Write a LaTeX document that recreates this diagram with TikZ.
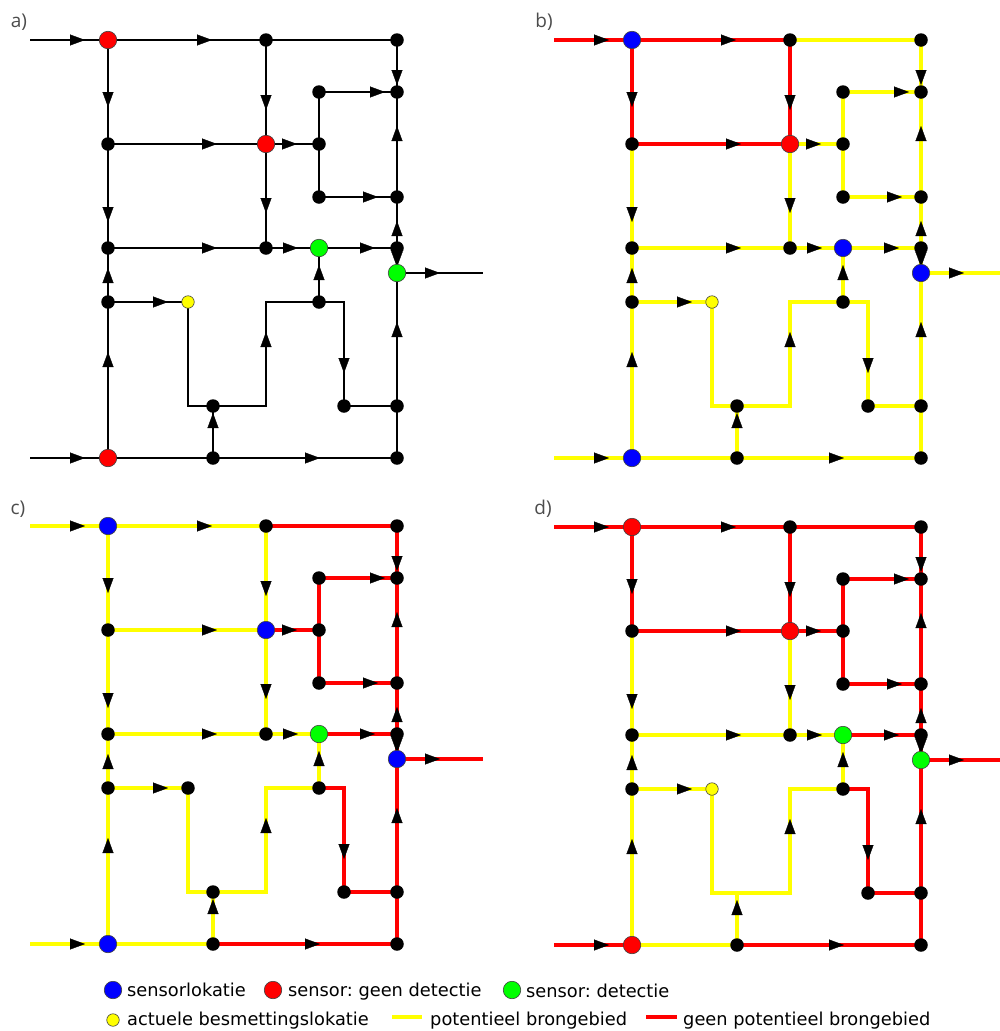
\documentclass[tikz,border=0pt]{standalone}
\usepackage{fontspec}
\setmainfont{DejaVu Sans}
\newfontfamily\lblfont{Open Sans}
\usetikzlibrary{arrows.meta,decorations.markings,backgrounds}
\frenchspacing
\definecolor{cred}{RGB}{255,0,0}
\definecolor{cyel}{RGB}{255,255,0}
\definecolor{cblue}{RGB}{0,0,255}
\definecolor{cgreen}{RGB}{0,255,0}
\tikzset{
 jdot/.style={circle, fill=black, inner sep=0pt, minimum size=13.5pt},
 sens/.style={circle, draw=black!75, line width=0.6pt, fill=#1, inner sep=0pt, minimum size=17.5pt},
 cont/.style={circle, draw=black!75, line width=0.6pt, fill=cyel, inner sep=0pt, minimum size=12.5pt},
 blk/.style={draw=black, line width=2pt},
 rline/.style={draw=cred, line width=3.6pt},
 yline/.style={draw=cyel, line width=3.6pt},
 yline2/.style={draw=cyel, line width=3.3pt, preaction={draw=cred!70!cyel, line width=4.1pt}},
 fl/.style={postaction={decorate, decoration={markings, mark=at position #1pt with {\arrow{Triangle[length=15pt,width=11pt,line width=0.3pt,color=black]}}}}},
 lbl/.style={font=\lblfont\fontsize{19}{19}\selectfont, text=black!70, inner sep=0pt},
 lgtext/.style={font=\fontsize{17.8}{20}\selectfont, anchor=base west, inner sep=0pt},
}
\newcommand\drawnet[1]{%
 \coordinate (#1in1) at (30,40);
 \coordinate (#1in2) at (30,458);
 \coordinate (#1out) at (483,273);
 \node[s1] (#1n1) at (108,40) {};
 \node[jdot] (#1n2) at (266,40) {};
 \node[jdot] (#1n3) at (397,40) {};
 \node[jdot] (#1n4) at (319,92) {};
 \node[jdot] (#1n5) at (397,92) {};
 \node[jdot] (#1n6) at (108,144) {};
 \node[s2] (#1n7) at (266,144) {};
 \node[jdot] (#1n8) at (319,144) {};
 \node[jdot] (#1n9) at (319,197) {};
 \node[jdot] (#1n10) at (397,197) {};
 \node[jdot] (#1n11) at (108,248) {};
 \node[jdot] (#1n12) at (266,248) {};
 \node[s3] (#1n13) at (319,248) {};
 \node[jdot] (#1n14) at (397,248) {};
 \node[s4] (#1n15) at (397,273) {};
 \node[jdot] (#1n16) at (108,302) {};
 \node[s17] (#1n17) at (188,302) {};
 \node[jdot] (#1n18) at (319,302) {};
 \node[s19] (#1n19) at (213,406) {};
 \node[jdot] (#1n20) at (344,406) {};
 \node[jdot] (#1n21) at (397,406) {};
 \node[s5] (#1n22) at (108,458) {};
 \node[jdot] (#1n23) at (213,458) {};
 \node[jdot] (#1n24) at (397,458) {};
 \begin{scope}[on background layer]
 \path[gP, fl=55] (#1in1) -- (#1n1.center);
 \path[gP, fl=104] (#1n1.center) -- (#1n2.center);
 \path[gQ] (#1n2.center) -- (#1n3.center);
 \path[gQ, fl=45] (#1n3.center) -- (#1n5.center);
 \path[gP, fl=67] (#1n1.center) -- (#1n6.center);
 \path[gP, fl=70] (#1n2.center) -- (#1n7.center);
 \path[gQ, fl=66] (#1n4.center) -- (#1n5.center);
 \path[gQ] (#1n4.center) -- (#1n8.center);
 \path[gQ] (#1n8.center) -- (#1n9.center);
 \path[gP, fl=109] (#1n6.center) -- (#1n7.center);
 \path[gQ, fl=31] (#1n7.center) -- (#1n8.center);
 \path[gR, fl=69] (#1n7.center) -- (#1n12.center);
 \path[gR, fl=78] (#1n6.center) -- (#1n11.center);
 \path[gQ, fl=59] (#1n9.center) -- (#1n10.center);
 \path[gQ, fl=71] (#1n10.center) -- (#1n5.center);
 \path[gQ, fl=27] (#1n14.center) -- (#1n10.center);
 \path[gR, fl=109] (#1n11.center) -- (#1n12.center);
 \path[gR, fl=32] (#1n12.center) -- (#1n13.center);
 \path[gQ, fl=56] (#1n13.center) -- (#1n14.center);
 \path[gQ, fl=19] (#1n14.center) -- (#1n15.center);
 \path[gQ, fl=43] (#1n15.center) -- (#1out);
 \path[gR, fl=34] (#1n16.center) -- (#1n11.center);
 \path[gR, fl=106] (#1n22.center) -- (#1n16.center);
 \path[gR, fl=60] (#1n16.center) -- (#1n17.center);
 \path[gR] (#1n17.center) |- (#1n19.center);
 \path[gR, fl=127] (#1n19.center) -- (#1n19.center -| #1n12.center) -- (#1n18.center -| #1n12.center) -- (#1n18.center);
 \path[gR, fl=37] (#1n18.center) -- (#1n13.center);
 \path[gQ, fl=96] (#1n18.center) -| (#1n20.center);
 \path[gQ] (#1n20.center) -- (#1n21.center);
 \path[gQ, fl=84] (#1n21.center) -- (#1n15.center);
 \path[gQ] (#1n24.center) -- (#1n21.center);
 \path[gS, fl=55] (#1in2) -- (#1n22.center);
 \path[gR] (#1n22.center) -- (#1n23.center);
 \path[gQ, fl=107] (#1n23.center) -- (#1n24.center);
 \path[gR, fl=45] (#1n23.center) -- (#1n19.center);
 \end{scope}}
\begin{document}
\begin{tikzpicture}[x=1pt,y=-1pt]
\useasboundingbox (0,0) rectangle (1000,1031);
\begin{scope}[on background layer]
\fill[white] (0,0) rectangle (1000,1031);
\end{scope}
% panel a
\begin{scope}[s1/.style={sens=cred}, s2/.style={sens=cred}, s3/.style={sens=cgreen}, s4/.style={sens=cgreen}, s5/.style={sens=cred}, s17/.style={cont}, s19/.style={jdot}, gP/.style={blk}, gQ/.style={blk}, gR/.style={blk}, gS/.style={blk}]
\drawnet{a}
\end{scope}
% panel b
\begin{scope}[shift={(524,0)}, s1/.style={sens=cblue}, s2/.style={sens=cred}, s3/.style={sens=cblue}, s4/.style={sens=cblue}, s5/.style={sens=cblue}, s17/.style={cont}, s19/.style={jdot}, gP/.style={rline}, gQ/.style={yline}, gR/.style={yline}, gS/.style={yline}]
\drawnet{b}
\end{scope}
% panel c
\begin{scope}[shift={(0,486)}, s1/.style={sens=cblue}, s2/.style={sens=cblue}, s3/.style={sens=cgreen}, s4/.style={sens=cblue}, s5/.style={sens=cblue}, s17/.style={jdot}, s19/.style={jdot}, gP/.style={yline}, gQ/.style={rline}, gR/.style={yline}, gS/.style={yline}]
\drawnet{c}
\end{scope}
% panel d
\begin{scope}[shift={(524,487)}, s1/.style={sens=cred}, s2/.style={sens=cred}, s3/.style={sens=cgreen}, s4/.style={sens=cgreen}, s5/.style={sens=cred}, s17/.style={cont}, s19/.style={coordinate}, gP/.style={rline}, gQ/.style={rline}, gR/.style={yline2}, gS/.style={rline}]
\drawnet{d}
\end{scope}
% panel labels
\node[lbl] (la) at (19,22) {a)};
\node[lbl] (lb) at (544,22) {b)};
\node[lbl] (lc) at (18,509) {c)};
\node[lbl] (ld) at (543,509) {d)};
% legend
\node[sens=cblue] (lgb) at (113,990) {};
\node[lgtext] (lgbt) at (127,996.5) {sensorlokatie};
\node[sens=cred] (lgr) at (273,990) {};
\node[lgtext] (lgrt) at (288,996.5) {sensor: geen detectie};
\node[sens=cgreen] (lgg) at (512,990) {};
\node[lgtext] (lggt) at (526,997.5) {sensor: detectie};
\node[cont] (lgy) at (113,1020) {};
\node[lgtext] (lgyt) at (127,1025.5) {actuele besmettingslokatie};
\coordinate (ly1) at (392,1017);
\coordinate (ly2) at (422,1017);
\draw[yline] (ly1) -- (ly2);
\node[lgtext] (lgyl) at (430,1025.5) {potentieel brongebied};
\coordinate (lr1) at (646,1017);
\coordinate (lr2) at (677,1017);
\draw[rline] (lr1) -- (lr2);
\node[lgtext] (lgrl) at (683,1025.5) {geen potentieel brongebied};
\end{tikzpicture}
\end{document}
